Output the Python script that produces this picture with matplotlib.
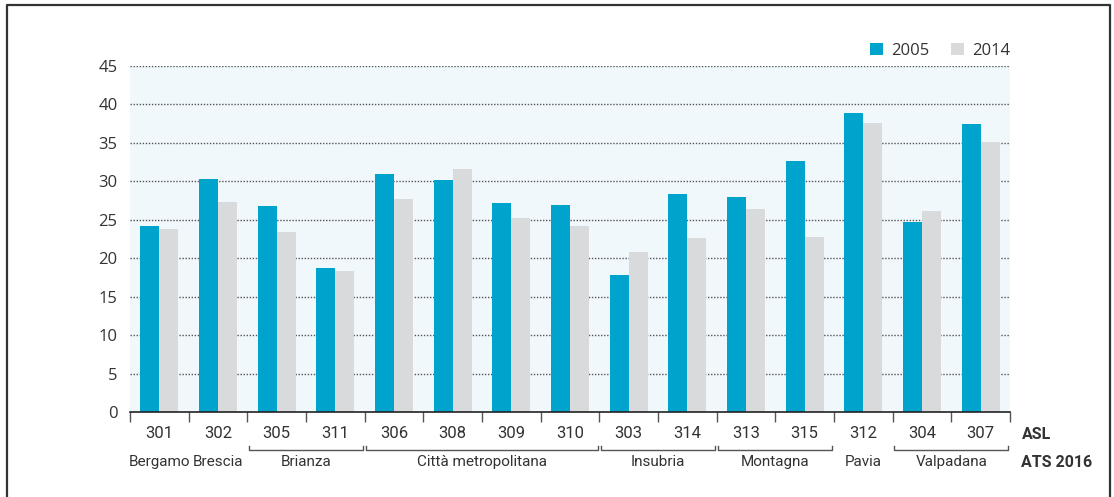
import numpy as np
import matplotlib.pyplot as plt
from matplotlib.lines import Line2D
import matplotlib.transforms as mtransforms

# ASL codes and their ATS 2016 groups
asl = ["301", "302", "305", "311", "306", "308", "309", "310",
       "303", "314", "313", "315", "312", "304", "307"]
ats_groups = ["Bergamo", "Brescia", "Brianza", "Città metropolitana",
              "Insubria", "Montagna", "Pavia", "Valpadana"]
ats_sizes = [1, 1, 2, 4, 2, 2, 1, 2]

val_2005 = [24.2, 30.3, 26.8, 18.7, 30.9, 30.2, 27.2, 26.9,
            17.8, 28.4, 27.9, 32.6, 38.9, 24.7, 37.5]
val_2014 = [23.8, 27.3, 23.4, 18.3, 27.7, 31.6, 25.2, 24.2,
            20.8, 22.6, 26.4, 22.7, 37.6, 26.1, 35.1]

BLUE = "#00A3CC"
GREY = "#D9DADB"
TXT = "#333333"
NARROW = ["Roboto", "DejaVu Sans"]

plt.rcParams["font.family"] = ["Open Sans", "DejaVu Sans"]

fig = plt.figure(figsize=(11.14, 4.97), dpi=100)
ax = fig.add_axes([130 / 1114, 1 - 412 / 497, 880 / 1114, 346 / 497])
ax.set_facecolor("#F0F8FC")

x = np.arange(len(asl)) + 0.5
w = 0.325
ax.bar(x - w / 2, val_2005, w, color=BLUE, label="2005", zorder=3)
ax.bar(x + w / 2, val_2014, w, color=GREY, label="2014", zorder=3)

ax.set_xlim(0, len(asl))
ax.set_ylim(0, 45)
yt = np.arange(0, 50, 5)
ax.set_yticks(yt)
ax.tick_params(axis="y", length=0, pad=9, labelsize=12, labelcolor=TXT)
for v in yt[1:]:
    ax.axhline(v, color="#555555", lw=1, ls=(0, (1, 1.2)), zorder=2)

for s in ["top", "right", "left"]:
    ax.spines[s].set_visible(False)
ax.spines["bottom"].set_color("#222222")
ax.spines["bottom"].set_linewidth(1.2)
ax.spines["bottom"].set_zorder(4)

# category boundaries as ticks, labels at centres
ax.set_xticks(np.arange(len(asl) + 1), minor=True)
ax.tick_params(axis="x", which="minor", length=7.5, width=1, color="#555555", direction="out")
ax.set_xticks(x)
ax.set_xticklabels(asl, family=NARROW)
ax.tick_params(axis="x", which="major", length=0, pad=10, labelsize=12, labelcolor=TXT)

trans = mtransforms.blended_transform_factory(ax.transData, ax.transAxes)
start = 0
for name, n in zip(ats_groups, ats_sizes):
    end = start + n
    mid = (start + end) / 2
    ax.text(mid, -0.145, name, transform=trans, ha="center", va="center",
            fontsize=11, color=TXT, family=NARROW)
    if n > 1:
        a, b = start + 0.02, end - 0.03
        ax.add_line(Line2D([a, a, b, b], [-0.097, -0.111, -0.111, -0.097],
                           transform=trans, color="#555555", lw=1, clip_on=False))
    start = end

ax.text(1.013, -0.066, "ASL", transform=ax.transAxes, ha="left", va="center",
        fontsize=11.5, fontweight="bold", color=TXT, family=NARROW)
ax.text(1.013, -0.145, "ATS 2016", transform=ax.transAxes, ha="left", va="center",
        fontsize=11.5, fontweight="bold", color=TXT, family=NARROW)

leg = ax.legend(loc="center right", bbox_to_anchor=(1.0, 1.043), ncol=2, frameon=False,
                handlelength=0.75, handleheight=0.75, handletextpad=0.5,
                columnspacing=1.3, borderaxespad=0, borderpad=0, fontsize=12)
for t in leg.get_texts():
    t.set_color(TXT)

# outer frame (open at the bottom)
frame = Line2D([7 / 1114, 7 / 1114, 1110 / 1114, 1110 / 1114],
               [0, 1 - 5 / 497, 1 - 5 / 497, 0],
               transform=fig.transFigure, color="#333333", lw=1.6)
fig.add_artist(frame)

fig.savefig("out.png", dpi=100)
